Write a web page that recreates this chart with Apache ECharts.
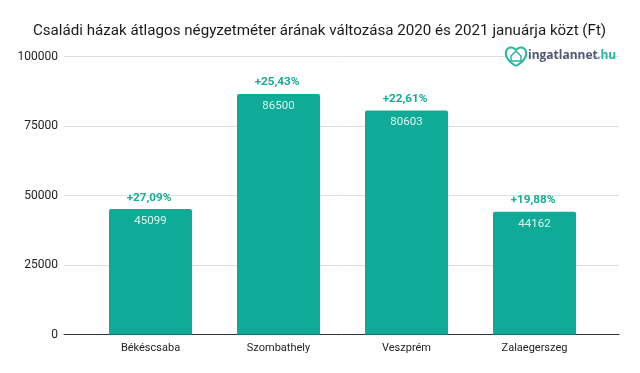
<!DOCTYPE html>
<html><head><meta charset="utf-8">
<script src="https://cdn.jsdelivr.net/npm/echarts@6/dist/echarts.min.js"></script>
<style>html,body{margin:0;padding:0;background:#fff}#c{width:640px;height:373px}</style>
</head><body><div id="c"></div>
<script>
const categories = ['Békéscsaba','Szombathely','Veszprém','Zalaegerszeg'];
const prices = [45099,86500,80603,44162];
const changes = ['+27,09%','+25,43%','+22,61%','+19,88%'];
const titleText = 'Családi házak átlagos négyzetméter árának változása 2020 és 2021 januárja közt (Ft)';
const font = 'Roboto';
const teal = '#0FAB97';
const logoTeal = '#2bb5a0';
const chart = echarts.init(document.getElementById('c'),null,{renderer:'canvas'});
chart.setOption({
  animation:false,
  textStyle:{fontFamily:font},
  title:{text:titleText,left:314.5,top:19,textAlign:'center',textStyle:{fontFamily:font,fontSize:15.15,fontWeight:'normal',color:'#1a1a1a'}},
  grid:[
    {left:64,right:21,top:56.5,height:278},
    {left:86.5,right:41.5,top:56.5,height:278}
  ],
  xAxis:[
    {gridIndex:0,type:'category',data:categories,axisLabel:{show:false},axisTick:{show:false},
     axisLine:{show:true,lineStyle:{color:'#333',width:1}}},
    {gridIndex:1,type:'category',data:categories,axisTick:{show:false},axisLine:{show:false},
     axisLabel:{color:'#222',fontSize:11,fontFamily:font,margin:8}}
  ],
  yAxis:[
    {gridIndex:0,type:'value',min:0,max:100000,interval:25000,axisLine:{show:false},axisTick:{show:false},
     axisLabel:{color:'#222',fontSize:12,fontFamily:font,margin:6,formatter:v=>String(v)},
     splitLine:{lineStyle:{color:'#dedede',width:1}}},
    {gridIndex:1,type:'value',min:0,max:100000,interval:25000,show:false,splitLine:{show:false}}
  ],
  series:[
    {type:'bar',xAxisIndex:1,yAxisIndex:1,data:prices,barWidth:83,z:3,
     itemStyle:{color:teal,borderRadius:[2,2,0,0]},
     label:{show:true,position:'insideTop',distance:6,color:'#dff4f0',fontSize:11.5,fontFamily:font}},
    {type:'bar',xAxisIndex:1,yAxisIndex:1,data:prices,barWidth:83,barGap:'-100%',z:4,
     itemStyle:{color:'transparent'},
     label:{show:true,position:'top',distance:5.5,offset:[-1.5,0],color:'#14AD93',fontSize:11.7,fontWeight:'bold',fontFamily:font,
       formatter:p=>changes[p.dataIndex]}}
  ],
  graphic:[
    {type:'text',x:528,y:49.5,z:10,style:{text:'ingatlannet',fill:'#4f5b73',font:'bold 12px "Open Sans"'}},
    {type:'text',x:597,y:49.5,z:10,style:{text:'.hu',fill:logoTeal,font:'bold 12px "Open Sans"'}},
    {type:'bezierCurve',z:11,shape:{x1:516,y1:50,cpx1:509,cpy1:42,cpx2:497,cpy2:55,x2:516,y2:66},style:{fill:'#fff',stroke:logoTeal,lineWidth:2}},
    {type:'bezierCurve',z:11,shape:{x1:516,y1:50,cpx1:523,cpy1:42,cpx2:535,cpy2:55,x2:516,y2:66},style:{fill:'#fff',stroke:logoTeal,lineWidth:2}},
    {type:'polygon',z:12,shape:{points:[[511,56],[516,51],[521,56],[521,61],[511,61]]},style:{fill:'none',stroke:logoTeal,lineWidth:1.5}}
  ]
});
</script></body></html>
